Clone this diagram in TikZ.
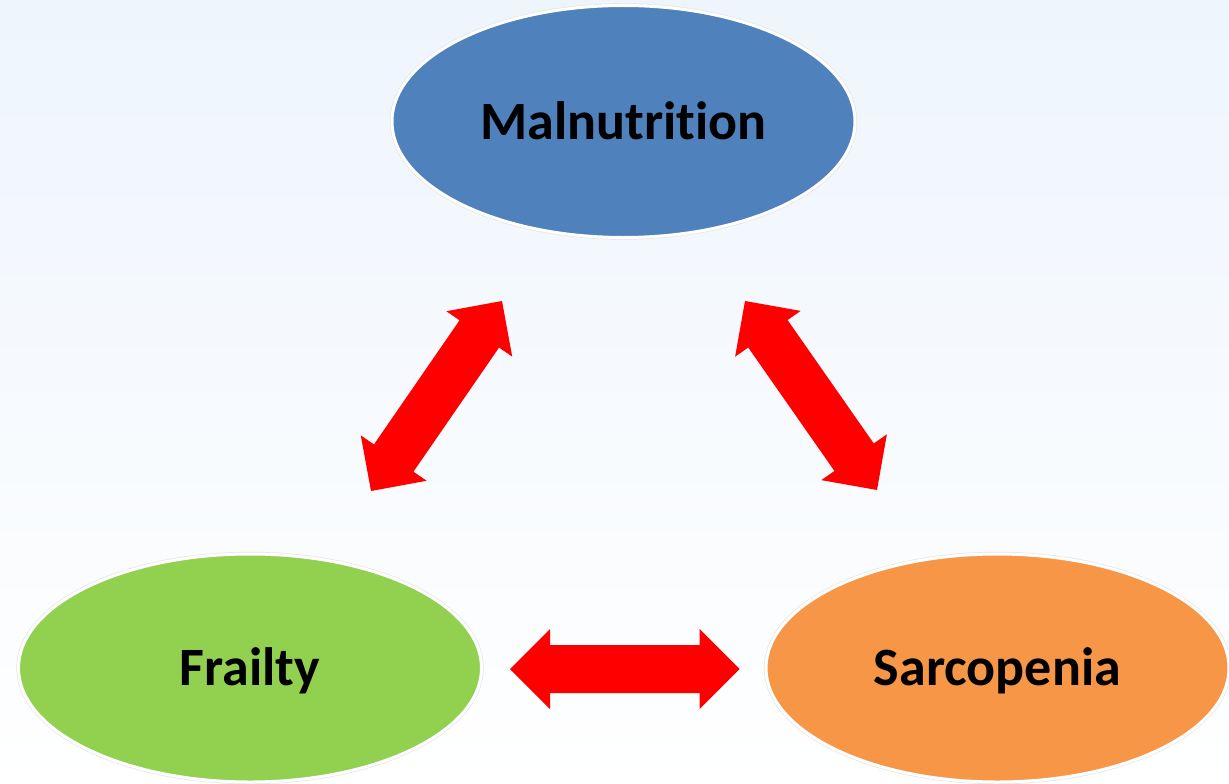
\documentclass[tikz,border=0pt]{standalone}
\usepackage{fontspec}
\setmainfont{Carlito}[Ligatures=NoCommon,RawFeature=-liga]
\usetikzlibrary{shapes.geometric,calc}
\definecolor{bgtop}{HTML}{EEF5FD}
\definecolor{malblue}{HTML}{4F81BD}
\definecolor{frgreen}{HTML}{92D050}
\definecolor{sarorange}{HTML}{F79646}
\definecolor{arrred}{HTML}{FF0000}
\tikzset{
  bubble/.style={ellipse, inner sep=0pt, outer sep=0pt, draw=white, line width=3pt,
    preaction={draw=black!10, line width=4.4pt},
    font=\bfseries\fontsize{54}{60}\selectfont, text=black,
    text height=35pt, text depth=0pt},
  arrowfill/.style={fill=arrred}
}
\newcommand\blockarrow[2]{%
  \fill[arrowfill] (#1)
    -- ($(#1)!40pt!(#2)!40pt!90:(#2)$)
    -- ($(#1)!40pt!(#2)!24pt!90:(#2)$)
    -- ($(#2)!40pt!(#1)!24pt!-90:(#1)$)
    -- ($(#2)!40pt!(#1)!40pt!-90:(#1)$)
    -- (#2)
    -- ($(#2)!40pt!(#1)!40pt!90:(#1)$)
    -- ($(#2)!40pt!(#1)!24pt!90:(#1)$)
    -- ($(#1)!40pt!(#2)!24pt!-90:(#2)$)
    -- ($(#1)!40pt!(#2)!40pt!-90:(#2)$)
    -- cycle;}
\begin{document}
\begin{tikzpicture}[x=1pt,y=-1pt]
  \useasboundingbox (0,0) rectangle (1229,784);
  \shade[top color=bgtop, bottom color=white] (0,0) rectangle (1229,784);

  \node[bubble, fill=malblue, minimum width=463pt, minimum height=232pt] (mal) at (623.5,121.5) {Malnutrition};
  \node[bubble, fill=frgreen, minimum width=463pt, minimum height=228pt] (fra) at (250,668) {Frailty};
  \node[bubble, fill=sarorange, minimum width=463pt, minimum height=228pt] (sar) at (997.5,668) {Sarcopenia};

  % arrow end points near the bubbles
  \coordinate (lA) at (371,491);
  \coordinate (lB) at (502,301);
  \coordinate (rA) at (745,301);
  \coordinate (rB) at (877,490);
  \coordinate (hA) at (510,669);
  \coordinate (hB) at (739.5,669);

  \blockarrow{lA}{lB}
  \blockarrow{rA}{rB}
  \blockarrow{hA}{hB}
\end{tikzpicture}
\end{document}
